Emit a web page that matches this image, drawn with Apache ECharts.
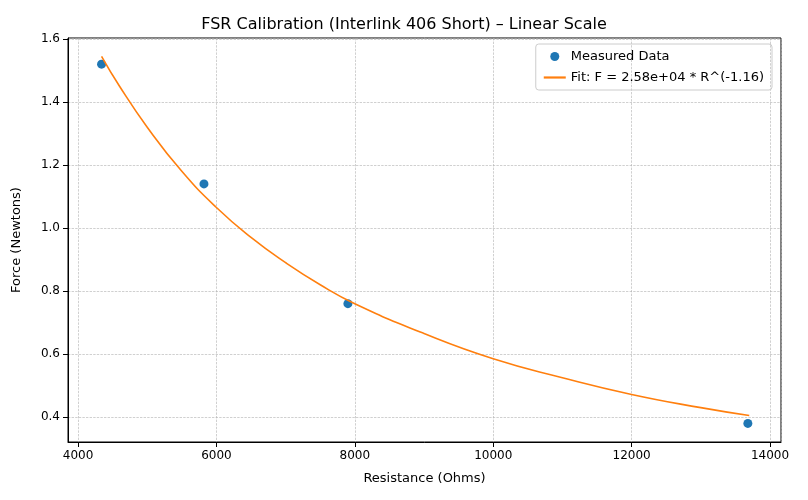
<!DOCTYPE html>
<html>
<head>
<meta charset="UTF-8">
<script src="https://cdn.jsdelivr.net/npm/echarts@6/dist/echarts.min.js"></script>
</head>
<body style="margin:0">
<div id="c" style="width:808px;height:500px"></div>
<script>
// measured points
var resistance = [4340, 5820, 7900, 13680];
var force = [1.52, 1.14, 0.76, 0.38];
// fit curve points
var fitR = [4340, 4600, 5000, 5500, 6000, 6500, 7000, 7500, 8000, 9000, 10000, 11000, 12000, 13000, 13700];
var fitF = [1.545, 1.45, 1.32, 1.18, 1.065, 0.97, 0.89, 0.82, 0.76, 0.665, 0.585, 0.525, 0.472, 0.43, 0.405];

var chart = echarts.init(document.getElementById('c'));
var dashed = {show: true, lineStyle: {color: '#b0b0b0', type: 'dashed', width: 0.6}};
chart.setOption({
    animation: false,
    title: {text: 'FSR Calibration (Interlink 406 Short) \u2013 Linear Scale', left: 'center', top: 12,
        textStyle: {fontFamily: 'DejaVu Sans', fontSize: 16, fontWeight: 'normal', color: '#000'}},
    grid: {left: 68, right: 27, top: 38, bottom: 58, show: true, borderColor: '#000', borderWidth: 1},
    legend: {right: 36, top: 44, orient: 'vertical', itemGap: 8, itemWidth: 22, itemHeight: 9,
        borderColor: '#ccc', borderWidth: 1, borderRadius: 3,
        padding: [6, 8], textStyle: {fontFamily: 'DejaVu Sans', fontSize: 13, color: '#000'},
        data: [{name: 'Measured Data', icon: 'circle'}, {name: 'Fit: F = 2.58e+04 * R^(-1.16)', icon: 'path://M0,5L20,5L20,7L0,7Z'}]},
    xAxis: {type: 'value', min: 3855, max: 14159, splitNumber: 5, name: 'Resistance (Ohms)', nameLocation: 'middle', nameGap: 30,
        nameTextStyle: {fontFamily: 'DejaVu Sans', fontSize: 13, color: '#000'},
        axisLine: {lineStyle: {color: '#000'}}, axisTick: {show: true, lineStyle: {color: '#000'}},
        axisLabel: {showMinLabel: false, showMaxLabel: false, fontFamily: 'DejaVu Sans', fontSize: 12, color: '#000',
            formatter: function (v) { return String(v); }},
        splitLine: dashed},
    yAxis: {type: 'value', min: 0.321, max: 1.603, splitNumber: 6, name: 'Force (Newtons)', nameLocation: 'middle', nameGap: 45,
        nameTextStyle: {fontFamily: 'DejaVu Sans', fontSize: 13, color: '#000'},
        axisLine: {show: true, lineStyle: {color: '#000'}}, axisTick: {show: true, lineStyle: {color: '#000'}},
        axisLabel: {showMinLabel: false, showMaxLabel: false, fontFamily: 'DejaVu Sans', fontSize: 12, color: '#000',
            formatter: function (v) { return v.toFixed(1); }},
        splitLine: dashed},
    series: [
        {name: 'Measured Data', type: 'scatter', symbolSize: 9, itemStyle: {color: '#1f77b4', opacity: 1},
            data: resistance.map(function (r, i) { return [r, force[i]]; })},
        {name: 'Fit: F = 2.58e+04 * R^(-1.16)', type: 'line', smooth: true, showSymbol: false,
            lineStyle: {color: '#ff7f0e', width: 1.6}, itemStyle: {color: '#ff7f0e'},
            data: fitR.map(function (r, i) { return [r, fitF[i]]; })}
    ]
});
</script>
</body>
</html>
